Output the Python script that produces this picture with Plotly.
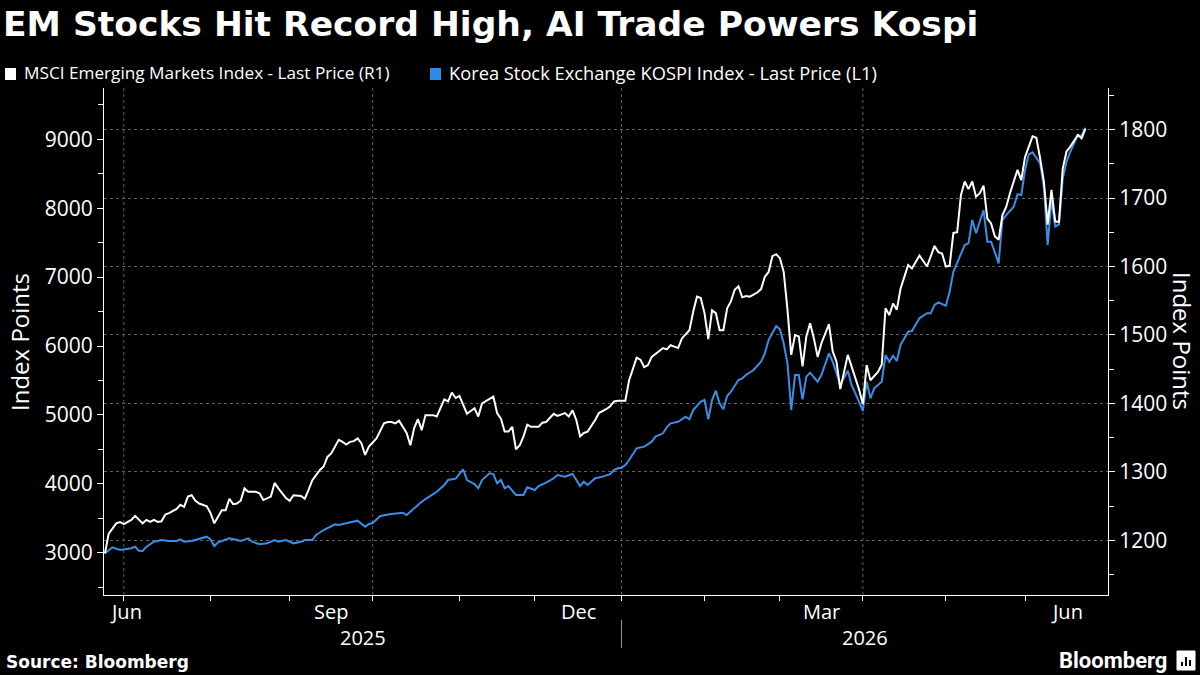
import plotly.graph_objects as go

# ---------------- data ----------------
msci_dates = [
    "2025-06-24","2025-06-25","2025-06-27","2025-06-30","2025-07-01","2025-07-02","2025-07-03","2025-07-04",
    "2025-07-07","2025-07-08","2025-07-09","2025-07-10","2025-07-11","2025-07-14","2025-07-15","2025-07-16",
    "2025-07-17","2025-07-21","2025-07-22","2025-07-23","2025-07-24","2025-07-25","2025-07-28","2025-07-29",
    "2025-07-31","2025-08-01","2025-08-04","2025-08-05","2025-08-06","2025-08-07","2025-08-08","2025-08-11",
    "2025-08-12","2025-08-13","2025-08-14","2025-08-15","2025-08-19","2025-08-20","2025-08-21","2025-08-25",
    "2025-08-26","2025-08-27","2025-08-28","2025-08-29","2025-09-01","2025-09-02","2025-09-04","2025-09-05",
    "2025-09-08","2025-09-09","2025-09-11","2025-09-12","2025-09-15","2025-09-16","2025-09-17","2025-09-18",
    "2025-09-19","2025-09-22","2025-09-23","2025-09-24","2025-09-25","2025-09-26","2025-09-29","2025-09-30",
    "2025-10-02","2025-10-06","2025-10-07","2025-10-08","2025-10-09","2025-10-10","2025-10-14","2025-10-15",
    "2025-10-16","2025-10-17","2025-10-20","2025-10-21","2025-10-23","2025-10-24","2025-10-28","2025-10-29",
    "2025-10-30","2025-10-31","2025-11-03","2025-11-04","2025-11-05","2025-11-07","2025-11-10","2025-11-11",
    "2025-11-13","2025-11-14","2025-11-17","2025-11-18","2025-11-19","2025-11-20","2025-11-21","2025-11-24",
    "2025-11-25","2025-11-26","2025-11-27","2025-11-28","2025-12-02","2025-12-03","2025-12-04","2025-12-08",
    "2025-12-09","2025-12-11","2025-12-12","2025-12-15","2025-12-16","2025-12-17","2025-12-18","2025-12-19",
    "2025-12-23","2025-12-24","2025-12-26","2025-12-29","2025-12-30","2025-12-31","2026-01-02","2026-01-05",
    "2026-01-07","2026-01-08","2026-01-09","2026-01-12","2026-01-13","2026-01-15","2026-01-16","2026-01-19",
    "2026-01-20","2026-01-21","2026-01-22","2026-01-23","2026-01-27","2026-01-28","2026-01-29","2026-01-30",
    "2026-02-02","2026-02-03","2026-02-04","2026-02-05","2026-02-06","2026-02-09","2026-02-10","2026-02-11",
    "2026-02-12","2026-02-13","2026-02-16","2026-02-17","2026-02-18","2026-02-20","2026-02-23","2026-02-24",
    "2026-02-25","2026-02-26","2026-02-27","2026-03-02","2026-03-03","2026-03-04","2026-03-05","2026-03-06",
    "2026-03-09","2026-03-10","2026-03-11","2026-03-12","2026-03-13","2026-03-16","2026-03-17","2026-03-19",
    "2026-03-20","2026-03-23","2026-03-24","2026-03-26","2026-03-30","2026-03-31","2026-04-01","2026-04-02",
    "2026-04-03","2026-04-07","2026-04-08","2026-04-09","2026-04-10","2026-04-13","2026-04-14","2026-04-15",
    "2026-04-17","2026-04-20","2026-04-22","2026-04-24","2026-04-28","2026-04-29","2026-04-30","2026-05-01",
    "2026-05-04","2026-05-05","2026-05-06","2026-05-07","2026-05-08","2026-05-11","2026-05-12","2026-05-13",
    "2026-05-14","2026-05-15","2026-05-18","2026-05-19","2026-05-20","2026-05-21","2026-05-22","2026-05-25",
    "2026-05-26","2026-05-28","2026-05-29","2026-06-01","2026-06-03","2026-06-04","2026-06-05","2026-06-08",
    "2026-06-09","2026-06-10","2026-06-11","2026-06-12","2026-06-15","2026-06-16","2026-06-17","2026-06-19",
    "2026-06-22","2026-06-23",
]
msci_values = [
    1181,1210,1225,1227,1224,1227,1230,1236,
    1231,1225,1230,1227,1230,1227,1228,1238,
    1240,1246,1252,1249,1264,1266,1258,1254,
    1250,1240,1225,1235,1244,1244,1261,1253,
    1254,1258,1276,1271,1271,1269,1259,1264,
    1284,1276,1269,1262,1258,1266,1265,1261,
    1274,1288,1303,1308,1322,1327,1337,1347,
    1344,1340,1344,1345,1349,1342,1325,1337,
    1349,1371,1373,1373,1371,1375,1357,1339,
    1364,1377,1361,1383,1383,1381,1406,1403,
    1416,1408,1411,1398,1385,1393,1381,1400,
    1406,1410,1386,1378,1359,1359,1366,1333,
    1339,1352,1369,1366,1366,1372,1373,1385,
    1382,1386,1381,1390,1376,1352,1357,1359,
    1376,1386,1392,1396,1403,1404,1404,1434,
    1467,1464,1453,1456,1468,1476,1481,1479,
    1485,1483,1481,1495,1507,1534,1556,1554,
    1532,1494,1536,1532,1507,1507,1539,1549,
    1566,1571,1555,1557,1556,1562,1567,1585,
    1592,1615,1618,1612,1592,1537,1471,1500,
    1498,1454,1498,1517,1495,1468,1488,1516,
    1476,1461,1421,1471,1438,1420,1399,1456,
    1434,1446,1457,1539,1529,1546,1537,1568,
    1602,1597,1616,1600,1630,1621,1619,1600,
    1601,1649,1650,1704,1724,1713,1724,1702,
    1707,1718,1670,1663,1644,1639,1675,1687,
    1707,1741,1726,1760,1790,1788,1758,1724,
    1661,1712,1666,1665,1743,1768,1775,1792,
    1787,1801,
]

kospi_dates = [
    "2025-06-24","2025-06-26","2025-06-30","2025-07-02","2025-07-03","2025-07-04","2025-07-07","2025-07-08",
    "2025-07-09","2025-07-11","2025-07-14","2025-07-15","2025-07-17","2025-07-21","2025-07-22","2025-07-23",
    "2025-07-25","2025-07-28","2025-07-30","2025-07-31","2025-08-01","2025-08-04","2025-08-05","2025-08-07",
    "2025-08-08","2025-08-12","2025-08-13","2025-08-15","2025-08-18","2025-08-20","2025-08-22","2025-08-26",
    "2025-08-27","2025-08-29","2025-09-02","2025-09-04","2025-09-05","2025-09-09","2025-09-10","2025-09-12",
    "2025-09-16","2025-09-17","2025-09-18","2025-09-22","2025-09-23","2025-09-25","2025-09-29","2025-09-30",
    "2025-10-01","2025-10-03","2025-10-08","2025-10-13","2025-10-14","2025-10-16","2025-10-20","2025-10-22",
    "2025-10-24","2025-10-28","2025-10-29","2025-10-31","2025-11-03","2025-11-04","2025-11-05","2025-11-07",
    "2025-11-10","2025-11-11","2025-11-13","2025-11-14","2025-11-17","2025-11-18","2025-11-19","2025-11-20",
    "2025-11-24","2025-11-26","2025-11-27","2025-12-01","2025-12-02","2025-12-04","2025-12-08","2025-12-09",
    "2025-12-11","2025-12-15","2025-12-16","2025-12-17","2025-12-18","2025-12-19","2025-12-23","2025-12-25",
    "2025-12-29","2025-12-30","2025-12-31","2026-01-01","2026-01-02","2026-01-05","2026-01-07","2026-01-09",
    "2026-01-13","2026-01-14","2026-01-16","2026-01-19","2026-01-20","2026-01-22","2026-01-26","2026-01-27",
    "2026-01-28","2026-01-30","2026-02-02","2026-02-03","2026-02-04","2026-02-05","2026-02-06","2026-02-09",
    "2026-02-10","2026-02-11","2026-02-13","2026-02-16","2026-02-17","2026-02-19","2026-02-23","2026-02-24",
    "2026-02-25","2026-02-27","2026-03-02","2026-03-03","2026-03-04","2026-03-05","2026-03-06","2026-03-09",
    "2026-03-10","2026-03-11","2026-03-12","2026-03-16","2026-03-17","2026-03-19","2026-03-20","2026-03-24",
    "2026-03-26","2026-03-27","2026-03-30","2026-04-01","2026-04-02","2026-04-03","2026-04-06","2026-04-08",
    "2026-04-09","2026-04-10","2026-04-13","2026-04-14","2026-04-15","2026-04-17","2026-04-20","2026-04-22",
    "2026-04-24","2026-04-27","2026-04-28","2026-04-29","2026-05-01","2026-05-04","2026-05-05","2026-05-07",
    "2026-05-08","2026-05-11","2026-05-12","2026-05-13","2026-05-15","2026-05-18","2026-05-19","2026-05-21",
    "2026-05-22","2026-05-25","2026-05-27","2026-05-28","2026-05-29","2026-06-01","2026-06-02","2026-06-03",
    "2026-06-05","2026-06-08","2026-06-09","2026-06-10","2026-06-11","2026-06-12","2026-06-15","2026-06-16",
    "2026-06-17","2026-06-19","2026-06-22","2026-06-23",
]
kospi_values = [
    2991,3078,3039,3054,3064,3087,3029,3025,
    3087,3160,3170,3184,3170,3170,3194,3160,
    3170,3184,3209,3232,3194,3097,3151,3184,
    3209,3184,3170,3209,3160,3122,3136,3184,
    3160,3184,3136,3160,3184,3184,3257,3329,
    3377,3412,3402,3427,3441,3465,3377,3416,
    3430,3533,3561,3581,3547,3644,3740,3813,
    3885,3983,4055,4074,4138,4211,4055,3997,
    3935,4055,4152,4142,4007,4055,3935,3968,
    3837,3837,3949,3910,3968,4016,4080,4128,
    4104,4142,4055,3968,4031,3983,4080,4104,
    4140,4200,4225,4234,4273,4345,4515,4539,
    4611,4684,4733,4820,4878,4901,4974,4936,
    5071,5192,5216,4936,5216,5351,5168,5081,
    5274,5337,5507,5531,5579,5652,5772,5894,
    6087,6290,6242,6039,5749,5071,5579,5579,
    5226,5555,5613,5482,5579,5894,5772,5440,
    5640,5434,5313,5060,5482,5241,5386,5482,
    5869,5772,5859,5782,6015,6208,6218,6402,
    6475,6475,6595,6634,6586,6788,7078,7321,
    7466,7491,7829,7636,7974,7514,7514,7200,
    7829,7901,8022,8202,8192,8554,8782,8811,
    8652,8312,7466,8119,7732,7766,8434,8675,
    8820,9062,9052,9168,
]

msci_name = "MSCI Emerging Markets Index - Last Price (R1)"
kospi_name = "Korea Stock Exchange KOSPI Index - Last Price (L1)"

left_ticks = [3000, 4000, 5000, 6000, 7000, 8000, 9000]
right_ticks = [1200, 1300, 1400, 1500, 1600, 1700, 1800]
month_ticks = ["2025-07-01", "2025-08-01", "2025-09-01", "2025-10-01", "2025-11-03", "2025-12-01",
               "2026-01-01", "2026-02-02", "2026-03-02", "2026-04-01", "2026-05-01", "2026-06-01"]
quarter_lines = ["2025-07-01", "2025-10-01", "2026-01-01", "2026-04-01"]
month_labels = ["Jun", "Sep", "Dec", "Mar", "Jun"]
month_label_at = ["2025-07-01 12:00", "2025-09-16", "2025-12-16 12:00", "2026-03-17", "2026-06-16"]
year_labels = ["2025", "2026"]
year_label_at = ["2025-09-26 09:30", "2026-04-01 12:00"]
year_split = "2026-01-01"

WHITE = "#ffffff"
BLUE = "#3a8ee6"
GRID = "#5f5f5f"
TICKFONT = "Open Sans"

fig = go.Figure()
fig.add_trace(go.Scatter(x=msci_dates, y=msci_values, mode="lines", name=msci_name,
                         line=dict(color=WHITE, width=2), yaxis="y2"))
fig.add_trace(go.Scatter(x=kospi_dates, y=kospi_values, mode="lines", name=kospi_name,
                         line=dict(color=BLUE, width=2), yaxis="y"))

L, R, T, B = 104, 92, 88, 80
W, H = 1200, 675
PW, PH = W - L - R, H - T - B


def px(xp):
    return (xp - L) / PW


def py(yp):
    return (H - B - yp) / PH


fig.update_layout(
    width=W, height=H,
    margin=dict(l=L, r=R, t=T, b=B),
    paper_bgcolor="#000000", plot_bgcolor="#000000",
    showlegend=False,
    title=dict(text="<b>EM Stocks Hit Record High, AI Trade Powers Kospi</b>",
               x=3 / W, xref="container", xanchor="left",
               y=1 - 24 / H, yref="container", yanchor="middle",
               font=dict(family="DejaVu Sans", size=34.5, color=WHITE)),
    xaxis=dict(
        type="date",
        range=["2025-06-23 18:00", "2026-07-01"],
        rangebreaks=[dict(bounds=["sat", "mon"])],
        tickmode="array", tickvals=month_ticks, ticktext=[""] * len(month_ticks),
        ticks="outside", ticklen=5, tickcolor=WHITE, tickwidth=1,
        showline=True, linecolor=WHITE, linewidth=1,
        showgrid=False, zeroline=False,
    ),
    yaxis=dict(
        range=[2386, 9745],
        tickmode="array", tickvals=left_ticks,
        ticks="outside", ticklen=6, tickcolor=WHITE, tickwidth=1,
        minor=dict(dtick=500, ticks="outside", ticklen=5, tickcolor=WHITE, showgrid=False),
        showline=True, linecolor=WHITE, linewidth=1,
        showgrid=False, zeroline=False,
        tickfont=dict(family=TICKFONT, size=21, color=WHITE),
    ),
    yaxis2=dict(
        range=[1120.4, 1860.6], overlaying="y", side="right",
        tickmode="array", tickvals=right_ticks,
        ticks="outside", ticklen=6, tickcolor=WHITE, tickwidth=1,
        minor=dict(dtick=50, ticks="outside", ticklen=5, tickcolor=WHITE, showgrid=False),
        showline=True, linecolor=WHITE, linewidth=1,
        showgrid=True, gridcolor=GRID, gridwidth=1, griddash="3px,3px",
        zeroline=False,
        tickfont=dict(family=TICKFONT, size=21, color=WHITE),
    ),
)

shapes = []
for d in quarter_lines:
    shapes.append(dict(type="line", xref="x", yref="paper", x0=d, x1=d, y0=0, y1=1,
                       line=dict(color=GRID, width=1, dash="3px,3px"), layer="below"))
shapes.append(dict(type="line", xref="x", yref="paper", x0=year_split, x1=year_split,
                   y0=py(620), y1=py(648), line=dict(color="#9a9a9a", width=1)))
# legend squares
shapes.append(dict(type="rect", xref="paper", yref="paper", x0=px(5), x1=px(16), y0=py(80), y1=py(68),
                   fillcolor=WHITE, line=dict(width=0)))
shapes.append(dict(type="rect", xref="paper", yref="paper", x0=px(430), x1=px(441), y0=py(80), y1=py(68),
                   fillcolor="#2f8be8", line=dict(width=0)))
# Bloomberg logo icon
shapes.append(dict(type="rect", xref="paper", yref="paper", x0=px(1177), x1=px(1195), y0=py(670), y1=py(651),
                   fillcolor=WHITE, line=dict(color=WHITE, width=1)))
for bx, top in [(1181, 662), (1185, 657), (1189, 660)]:
    shapes.append(dict(type="rect", xref="paper", yref="paper", x0=px(bx), x1=px(bx + 2), y0=py(666), y1=py(top),
                       fillcolor="#000000", line=dict(width=0)))

annotations = []
for lab, at in zip(month_labels, month_label_at):
    annotations.append(dict(text=lab, x=at, xref="x", y=py(611), yref="paper", showarrow=False,
                            xanchor="center", yanchor="middle",
                            font=dict(family=TICKFONT, size=20, color=WHITE)))
for lab, at in zip(year_labels, year_label_at):
    annotations.append(dict(text=lab, x=at, xref="x", y=py(637), yref="paper", showarrow=False,
                            xanchor="center", yanchor="middle",
                            font=dict(family=TICKFONT, size=20, color=WHITE)))
annotations += [
    dict(text=msci_name, x=px(22), y=py(72), xref="paper", yref="paper", showarrow=False,
         xanchor="left", yanchor="middle", font=dict(family=TICKFONT, size=17.2, color=WHITE)),
    dict(text=kospi_name, x=px(447), y=py(72), xref="paper", yref="paper", showarrow=False,
         xanchor="left", yanchor="middle", font=dict(family=TICKFONT, size=18.3, color=WHITE)),
    dict(text="Index Points", x=px(19), y=py(342), xref="paper", yref="paper", showarrow=False,
         textangle=-90, xanchor="center", yanchor="middle",
         font=dict(family=TICKFONT, size=24, color=WHITE)),
    dict(text="Index Points", x=px(1183), y=py(341), xref="paper", yref="paper", showarrow=False,
         textangle=90, xanchor="center", yanchor="middle",
         font=dict(family=TICKFONT, size=24, color=WHITE)),
    dict(text="<b>Source: Bloomberg</b>", x=px(4), y=py(662), xref="paper", yref="paper", showarrow=False,
         xanchor="left", yanchor="middle", font=dict(family="DejaVu Sans", size=17, color=WHITE)),
    dict(text="<b>Bloomberg</b>", x=px(1169), y=py(660), xref="paper", yref="paper", showarrow=False,
         xanchor="right", yanchor="middle", font=dict(family="Roboto", size=22, color=WHITE)),
]

fig.update_layout(shapes=shapes, annotations=annotations)
fig.write_html("out.html")
